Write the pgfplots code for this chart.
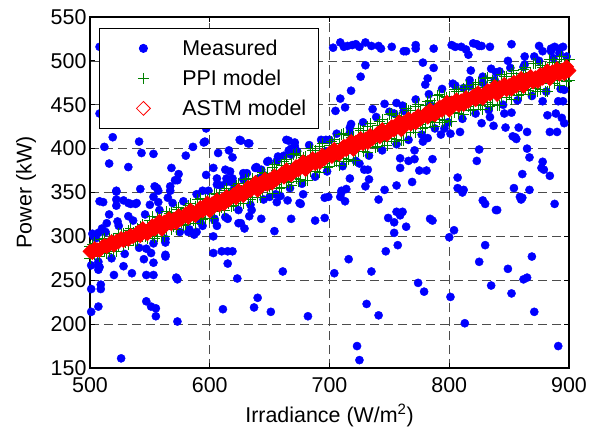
\documentclass[border=0pt]{standalone}
\usepackage{fontspec}
\setmainfont{Liberation Sans}
\usepackage{pgfplots}
\pgfplotsset{compat=1.18}
\definecolor{mblue}{rgb}{0,0,1}
\definecolor{mgreen}{rgb}{0,0.5,0}
\definecolor{mred}{rgb}{1,0,0}
\begin{document}
\begin{tikzpicture}
\useasboundingbox (-90bp,-65bp) rectangle (507bp,368bp);
\begin{axis}[
 scale only axis, width=479bp, height=351bp,
 xmin=500, xmax=900, ymin=150, ymax=550,
 xtick={500,600,...,900}, ytick={150,200,...,550},
 clip=false,
 grid=major,
 major grid style={dash pattern=on 9bp off 5bp, black!70, line width=0.7bp},
 tick align=inside,
 major tick length=5bp,
 axis line style={line width=1.1bp, black},
 every tick/.style={black, line width=0.9bp},
 tick label style={font=\fontsize{21.5}{25}\selectfont},
 /pgf/number format/assume math mode=true,
 xticklabel style={yshift=-6.5bp},
 label style={font=\fontsize{21.5}{25}\selectfont},
 xlabel={Irradiance (W/m\textsuperscript{2})},
 ylabel={Power (kW)},
 xlabel style={at={(axis description cs:0.5,0)}, anchor=base, yshift=-54bp},
 ylabel style={at={(axis description cs:-0.1221,0.5)}, anchor=base},
 legend cell align=left,
 legend style={at={(axis description cs:0.0188,0.9687)}, anchor=north west, draw=black, line width=0.8bp, fill=white, inner xsep=12bp, inner ysep=10bp, row sep=10bp, nodes={inner sep=0pt, font=\fontsize{21.5}{25}\selectfont}},
 legend image code/.code={\path[draw=none,fill=none] (0bp,-10bp) rectangle (71bp,10bp); \draw[#1] plot coordinates {(32bp,0bp)};},
]
% Measured
\addplot[only marks, mark=*, mark size=4.1bp, color=mblue, mark options={fill=mblue, draw=mblue}] coordinates {
(811,350)(828,341)(830,337)(839,330)(888,337)(861,344)(804,307)(800,299)(830,290)(825,271)(869,277)(849,263)(862,251)(865,253)(835,244)(852,235)(801,231)(871,214)(813,201)(891,175)
(710,350)(709,345)(713,340)(741,342)(699,345)(756,328)(761,328)(759,324)(749,321)(754,316)(764,311)(784,320)(786,318)(754,304)(757,290)(747,283)(716,274)(704,258)(735,260)(774,247)(779,237)(731,223)(741,210)(723,175)(725,159)
(675,338)(840,330)(860,342)
(650,345)(656,339)(665,341)(676,337)(678,348)(696,344)(659,346)(604,320)(606,312)(615,320)(624,315)(626,315)(629,309)(633,323)(635,330)(643,320)(654,306)(668,320)(688,318)(696,321)(603,300)(603,281)(610,283)(615,283)(619,283)(615,269)(623,252)(661,260)(640,230)(611,217)(637,219)(651,214)(682,209)
(501,240)(509,245)(509,240)(507,220)(501,214)(547,226)(551,220)(555,218)(555,209)(573,203)(526,161)(507,266)(501,267)(508,265)(507,271)(520,256)(528,266)(535,258)(547,256)(553,256)(572,253)(573,251)(545,274)(553,270)(551,281)(563,277)(563,279)(563,293)(547,286)(511,339)(522,342)(522,335)(528,341)(534,337)(539,338)(516,325)(514,315)(532,323)(523,317)(550,336)(557,339)(565,344)(507,304)(587,302)(582,305)(592,317)(589,305)(502,303)(505,298)(510,309)
(519,413)(541,408)(543,395)(553,394)(516,383)(532,379)(568,378)(574,371)(573,364)(580,392)(586,402)(596,408)(597,423)(597,370)(522,352)(542,354)(554,357)(557,352)(567,357)(567,352)(594,352)(508,516)(508,440)(512,402)(508,340)(522,351)(532,338)(538,337)(553,345)(556,355)(571,364)(595,407)(607,395)(606,359)(617,374)(614,362)(620,353)(616,342)(625,410)(632,406)(631,372)(638,378)(641,366)(657,366)(661,372)(664,410)(668,400)(668,393)(670,379)(671,407)
(626,409)(633,406)(616,398)(619,390)(666,409)(671,403)(666,398)(673,397)(648,385)(656,386)(657,391)(639,379)(643,376)(645,370)(603,378)(613,376)(606,366)(614,366)(619,361)(628,365)(685,385)(682,378)(697,410)(697,397)
(703,515)(709,521)(712,516)(715,517)(719,518)(722,519)(725,516)(730,521)(735,517)(741,517)(743,514)(752,516)(762,511)(764,511)(772,518)(772,514)(787,514)(730,495)(726,482)(718,466)(709,457)(713,447)(705,443)(736,445)(746,451)(756,452)(778,498)(787,492)(782,480)(780,473)(718,428)(717,418)(700,410)(759,389)(766,386)(771,388)(786,388)(759,378)(775,375)(781,375)(725,383)(729,376)(732,376)(717,366)(733,365)(730,357)(746,353)(756,358)(769,362)(710,352)(714,354)(771,398)(796,423)(793,416)(778,408)(782,412)(784,450)(792,449)(762,443)(754,440)
(805,516)(810,516)(814,513)(816,507)(823,519)(825,517)(834,516)(852,519)(875,517)(878,511)(885,514)(888,516)(892,514)(895,516)(885,511)(892,509)(802,518)(820,520)(827,517)(835,491)(818,489)(849,500)(863,505)(871,505)(862,493)(803,474)(812,469)(817,471)(828,475)(842,488)(838,478)(896,467)(891,454)(895,454)(878,454)(882,438)(889,440)(894,435)(896,429)(846,440)(852,441)(827,429)(834,436)(809,419)(801,417)(847,424)(858,424)(865,419)(884,419)(855,413)(856,411)(865,400)(867,390)(825,399)(823,386)(878,385)(877,378)(861,371)(884,369)(807,367)(807,355)(854,355)(867,353)(837,426)(853,414)(890,419)(812,353)(879,376)(859,345)
(503,300)(507,262)(513,305)(518,275)(524,312)(529,280)(536,318)(541,287)(546,325)(553,292)(558,330)(563,297)(569,338)(575,305)(578,340)(583,308)(589,348)(594,312)(599,352)(604,318)(609,358)(613,322)(619,366)(624,330)(628,372)(634,336)(639,378)(645,342)(649,386)(655,348)(662,392)(667,355)(672,398)(677,360)(683,404)(688,368)(693,410)(698,374)(706,417)(711,380)(717,424)(722,386)(728,430)(733,392)(739,436)(744,398)(750,442)(756,405)(761,449)(766,410)(772,456)(777,416)(783,462)(788,423)(794,468)(799,430)(805,472)(811,434)(817,478)(822,440)(828,482)(833,444)(839,487)(845,450)(851,492)(857,455)(863,496)(869,460)(875,500)(881,465)(887,503)(893,468)(898,505)
};
% PPI model
\addplot[only marks, mark=+, mark size=5.5bp, color=mgreen, mark options={line width=0.9bp}] coordinates {
(500,288)(500,274.8)(504,292.5)(504,279.3)(508,291)(508,277.2)(512,297.8)(512,282.2)(516,297.5)(516,282.5)(520,297.8)(520,282.8)(524,303.5)(524,289.1)(528,303.2)(528,290)(532,306.4)(532,290.2)(536,304.9)(536,296.5)(540,308.8)(540,295.6)(544,313.3)(544,300.1)(548,311.8)(548,298)
(552,322.6)(552,300.5)(556,321.3)(556,300)(560,320.9)(560,299.6)(564,328)(564,307.6)(568,326.8)(568,308)(572,330.5)(572,307.5)(576,327.5)(576,315.6)(580,332.1)(580,313.4)(584,337.6)(584,318.9)(588,334.6)(588,315)(592,343.4)(592,321.3)(596,342.1)(596,320.8)(600,341.7)(600,320.4)
(604,349.2)(604,328.8)(608,348.1)(608,329.4)(612,352.2)(612,329.2)(616,349.4)(616,337.5)(620,354.3)(620,335.6)(624,360.1)(624,341.4)(628,357.3)(628,337.8)(632,366.5)(632,344.4)(636,365.4)(636,344.2)(640,365.3)(640,344)(644,372.8)(644,352.4)(648,371.7)(648,353)
(652,379)(652,349.3)(656,374.7)(656,359.3)(660,380.4)(660,356.2)(664,387.2)(664,363)(668,382.9)(668,357.6)(672,394.1)(672,365.5)(676,392)(676,364.5)(680,391.1)(680,363.6)(684,400.1)(684,373.7)(688,398)(688,373.8)(692,402.6)(692,372.9)(696,398.3)(696,382.9)(700,404)(700,379.8)
(704,410.6)(704,386.4)(708,406.3)(708,381)(712,417.3)(712,388.7)(716,415.2)(716,387.7)(720,414.1)(720,386.6)(724,422.9)(724,396.5)(728,420.8)(728,396.6)(732,425.2)(732,395.5)(736,420.9)(736,405.5)(740,426.4)(740,402.2)(744,433)(744,408.8)(748,428.7)(748,403.4)
(752,439.7)(752,411.1)(756,437.6)(756,410.1)(760,436.5)(760,409)(764,445.3)(764,418.9)(768,443.2)(768,419)(772,447.6)(772,417.9)(776,443.3)(776,427.9)(780,448.8)(780,424.6)(784,455.4)(784,431.2)(788,451.1)(788,425.8)(792,462.1)(792,433.5)(796,460)(796,432.5)(800,458.9)(800,431.4)
(804,467.3)(804,440.9)(808,464.6)(808,440.4)(812,468.6)(812,438.9)(816,463.7)(816,448.3)(820,468.8)(820,444.6)(824,475)(824,450.8)(828,470.1)(828,444.8)(832,480.7)(832,452.1)(836,478)(836,450.5)(840,476.5)(840,449)(844,484.9)(844,458.5)(848,482.2)(848,458)
(852,486.1)(852,456.4)(856,481.1)(856,465.7)(860,486)(860,461.8)(864,492)(864,467.8)(868,487)(868,461.7)(872,497.4)(872,468.8)(876,494.6)(876,467.1)(880,492.9)(880,465.4)(884,501.1)(884,474.7)(888,498.3)(888,474.1)(892,502.1)(892,472.4)(896,497.1)(896,481.7)(900,502)(900,477.8)
(502,290.8)(506,279.1)(510,296.8)(514,280.9)(518,296.8)(522,283.2)(526,302.7)(530,292.8)(534,308.7)(538,294.6)(542,311.6)(546,299.9)(550,317.6)(554,298.2)(558,319.8)(562,299.8)(566,326.5)(570,311.6)(574,333.3)(578,312.4)(582,335.7)(586,318.2)(590,342.4)(594,319)(598,340.6)
(602,320.8)(606,347.7)(610,333.1)(614,355)(618,334.4)(622,358)(626,340.8)(630,365.3)(634,342.2)(638,364.1)(642,344.3)(646,371.3)(650,356.7)(654,382.4)(658,355)(662,384.9)(666,361.9)(670,392.9)(674,362.3)(678,389.9)(682,363.7)(686,397.9)(690,378.3)(694,406)(698,378.6)
(702,408.4)(706,385.4)(710,416.2)(714,385.4)(718,413)(722,386.6)(726,420.8)(730,401)(734,428.5)(738,401.1)(742,430.8)(746,407.8)(750,438.6)(754,407.8)(758,435.4)(762,409)(766,443.2)(770,423.4)(774,450.9)(778,423.5)(782,453.2)(786,430.2)(790,461)(794,430.2)(798,457.8)
(802,431.2)(806,464.8)(810,444.6)(814,471.7)(818,443.7)(822,473)(826,449.4)(830,479.8)(834,448.6)(838,475.6)(842,448.8)(846,482.4)(850,462.2)(854,489.1)(858,461)(862,490.1)(866,466.4)(870,496.6)(874,465.2)(878,492.1)(882,465.1)(886,498.6)(890,478.2)(894,505.1)(898,477)
};
% ASTM model
\addplot[only marks, mark=square*, mark size=4.9bp, color=mred, mark options={rotate=45, draw=mred, fill=mred, line width=0.8bp}, legend image post style={mark options={rotate=45, draw=mred, fill=white, line width=0.8bp}}] coordinates {
(500,283)(502,281.5)(504,286.1)(506,284.6)(508,284.2)(510,287.7)(512,289.7)(514,288.3)(516,290.3)(518,293.9)(520,289.9)(522,294.4)(524,294)(526,297.5)(528,295.1)(530,298.1)(532,296.6)(534,301.2)(536,299.7)(538,301.8)
(540,304.8)(542,300.8)(544,308.9)(546,304.9)(548,303)(550,309)(552,312)(554,308.1)(556,311.1)(558,317.2)(560,308.2)(562,316.2)(564,314.3)(566,320.3)(568,314.4)(570,319.4)(572,315.4)(574,323.5)(576,319.5)(578,322.6)
(580,325.6)(582,321.6)(584,329.7)(586,325.7)(588,323.8)(590,329.8)(592,332.8)(594,328.9)(596,331.9)(598,338)(600,329)(602,337.2)(604,335.4)(606,341.5)(608,335.7)(610,340.9)(612,337.1)(614,345.3)(616,341.4)(618,344.6)
(620,347.8)(622,344)(624,352.2)(626,348.3)(628,346.5)(630,352.7)(632,355.9)(634,352.1)(636,355.2)(638,361.4)(640,352.6)(642,360.8)(644,359)(646,365.1)(648,359.3)(650,364.5)(652,360.7)(654,368.9)(656,365)(658,368.2)
(660,371.4)(662,367.6)(664,375.8)(666,371.9)(668,370.1)(670,376.3)(672,379.5)(674,375.7)(676,378.8)(678,385)(680,376.2)(682,384.4)(684,382.6)(686,388.7)(688,382.9)(690,388.1)(692,384.3)(694,392.5)(696,388.6)(698,391.8)
(700,395)(702,391.1)(704,399.2)(706,395.4)(708,393.5)(710,399.6)(712,402.7)(714,398.8)(716,402)(718,408.1)(720,399.2)(722,407.3)(724,405.4)(726,411.6)(728,405.7)(730,410.8)(732,406.9)(734,415)(736,411.2)(738,414.3)
(740,417.4)(742,413.5)(744,421.6)(746,417.8)(748,415.9)(750,422)(752,425.1)(754,421.2)(756,424.4)(758,430.5)(760,421.6)(762,429.7)(764,427.8)(766,434)(768,428.1)(770,433.2)(772,429.3)(774,437.4)(776,433.6)(778,436.7)
(780,439.8)(782,435.9)(784,444)(786,440.2)(788,438.3)(790,444.4)(792,447.5)(794,443.6)(796,446.8)(798,452.9)(800,444)(802,451.9)(804,449.8)(806,455.6)(808,449.5)(810,454.4)(812,450.3)(814,458.2)(816,454)(818,456.9)
(820,459.8)(822,455.7)(824,463.6)(826,459.4)(828,457.3)(830,463.2)(832,466.1)(834,462)(836,464.8)(838,470.7)(840,461.6)(842,469.5)(844,467.4)(846,473.2)(848,467.1)(850,472)(852,467.8)(854,475.6)(856,471.4)(858,474.2)
(860,480)(862,470.8)(864,478.6)(866,476.4)(868,482.2)(870,476)(872,480.8)(874,476.6)(876,484.4)(878,480.2)(880,483)(882,488.8)(884,479.6)(886,487.4)(888,485.2)(890,491)(892,484.8)(894,489.6)(896,485.4)(898,493.2)(900,489)
};
\legend{Measured, PPI model, ASTM model}
\end{axis}
\end{tikzpicture}
\end{document}
